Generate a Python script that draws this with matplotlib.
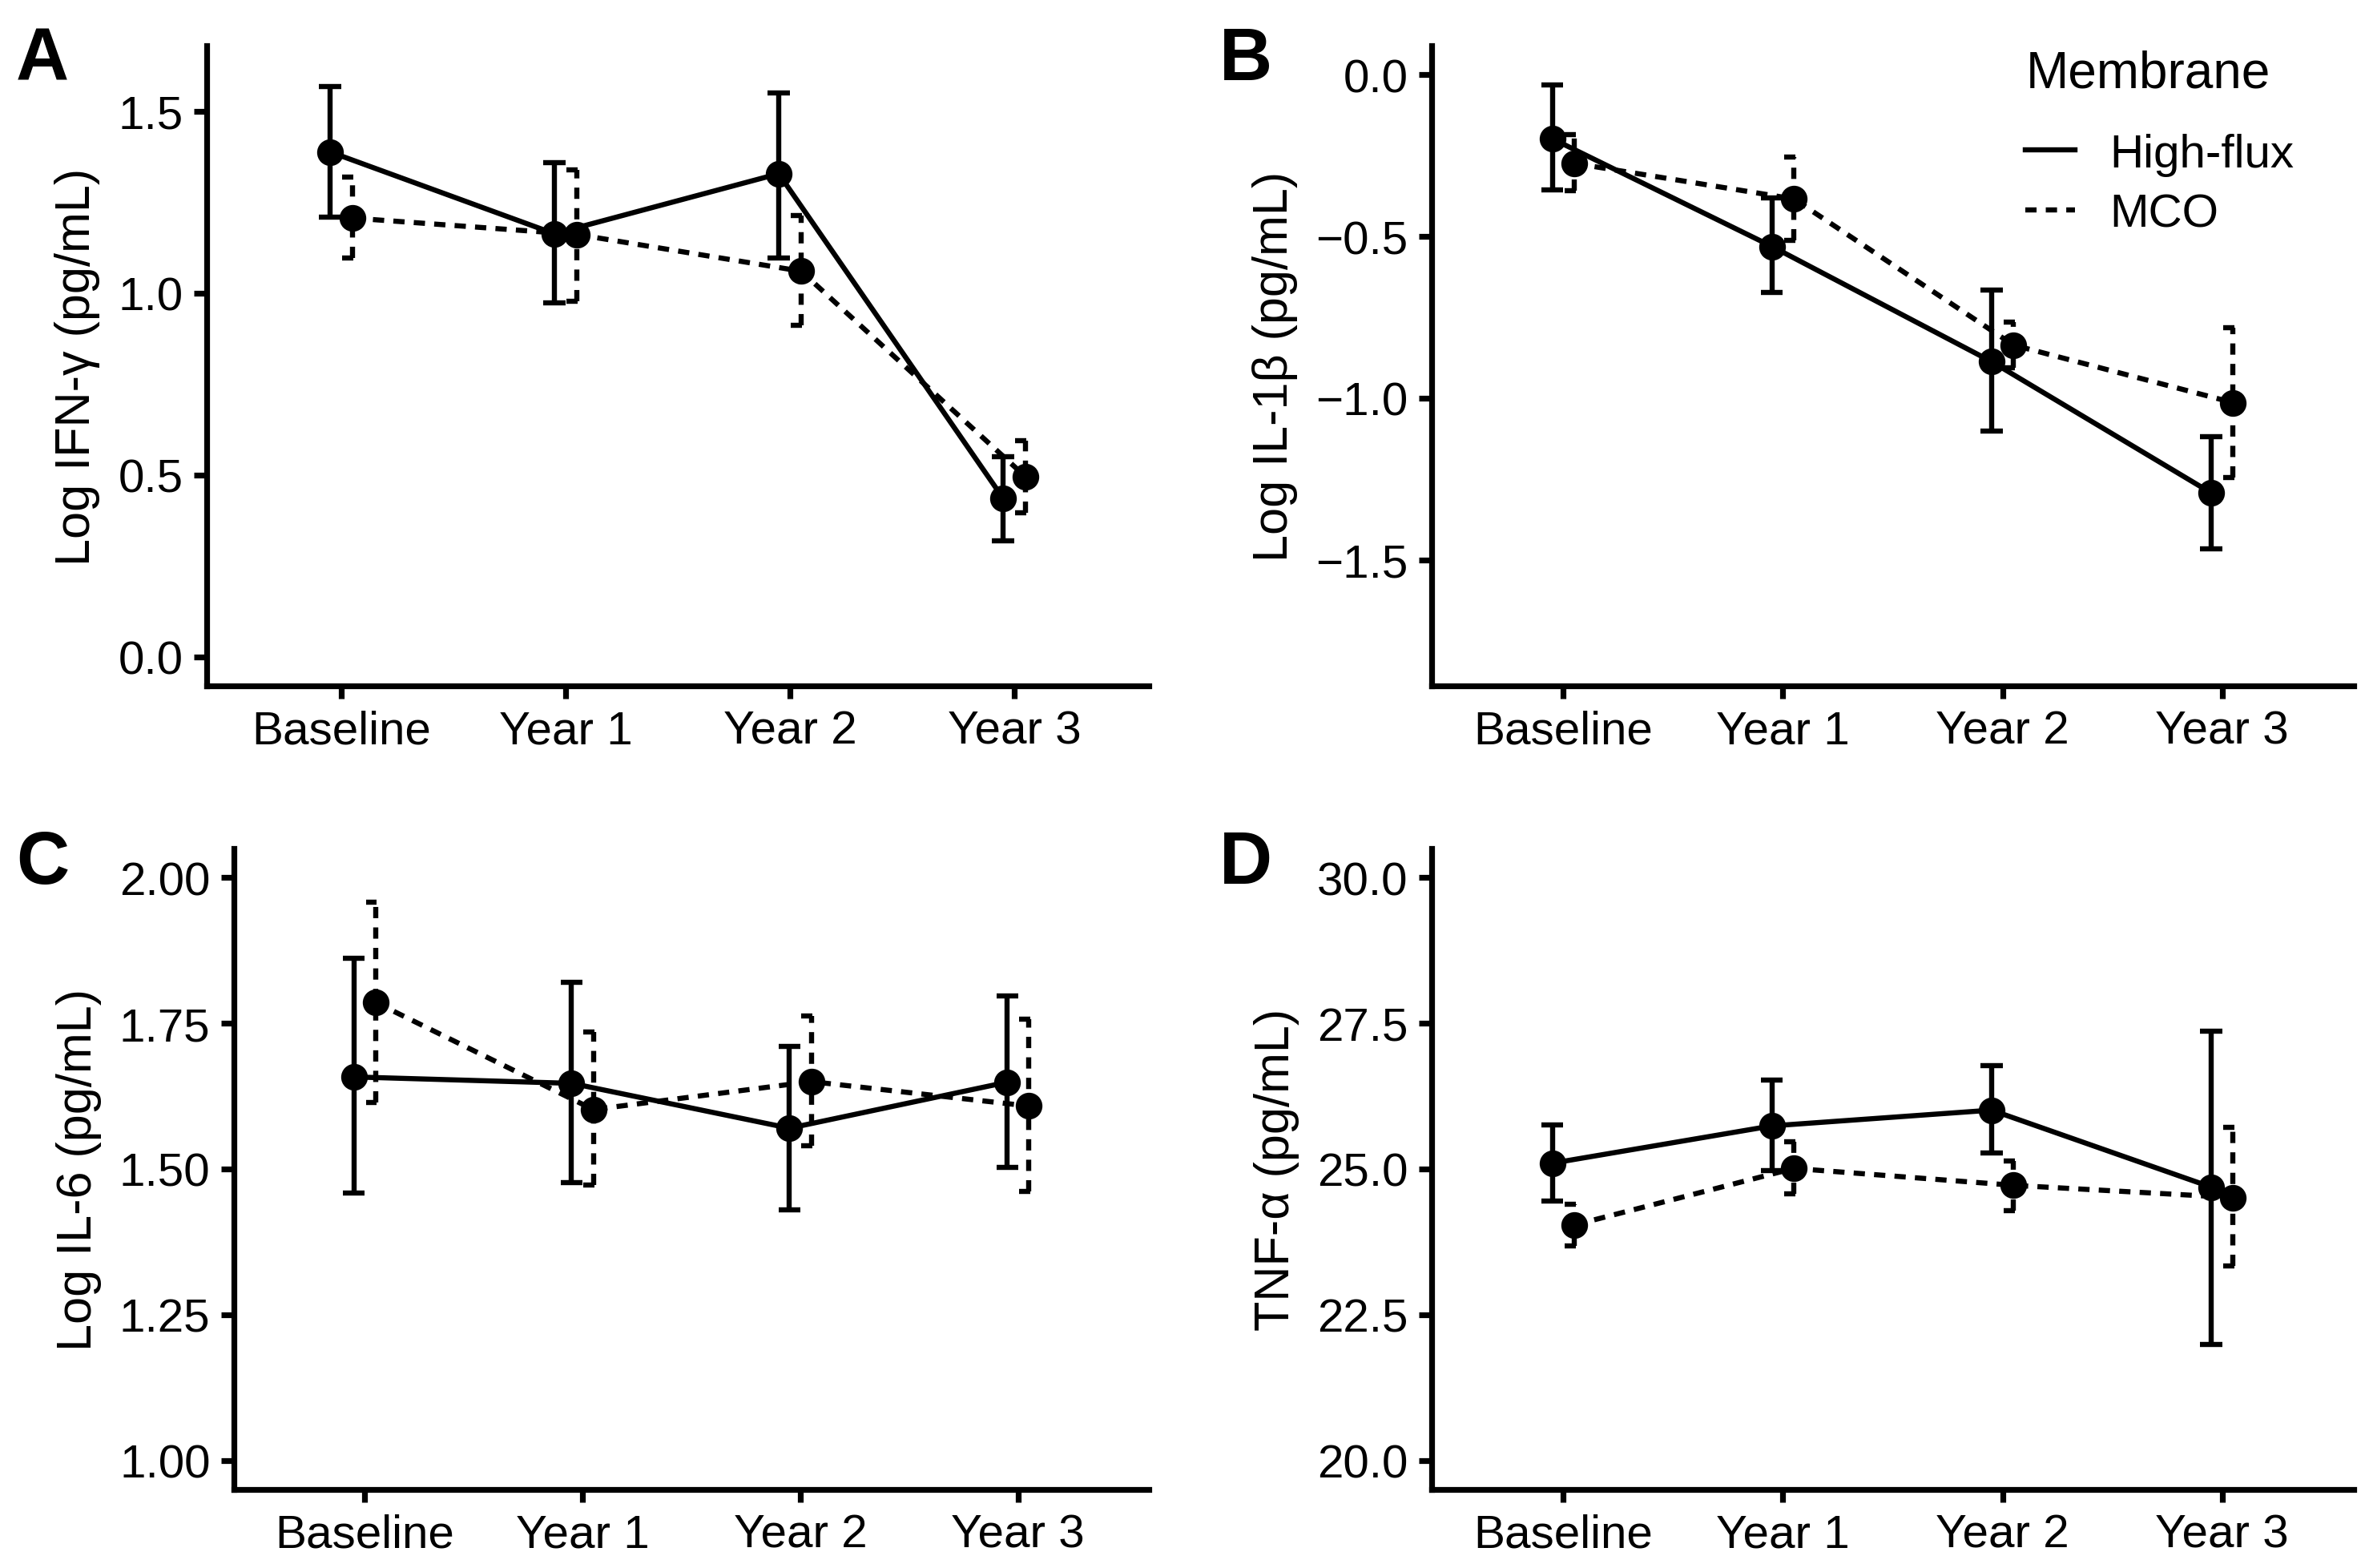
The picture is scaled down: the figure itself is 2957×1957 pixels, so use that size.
import matplotlib
matplotlib.use("Agg")
import matplotlib.pyplot as plt
from matplotlib.lines import Line2D
from matplotlib.ticker import FixedLocator, FuncFormatter
import numpy as np

plt.rcParams['font.family'] = ['Liberation Sans', 'DejaVu Sans']

# ---- data ----
timepoints = ["Baseline", "Year 1", "Year 2", "Year 3"]

# A: IFN-gamma
ifn_hf = [1.388, 1.163, 1.328, 0.436]
ifn_hf_lo = [1.208, 0.974, 1.097, 0.319]
ifn_hf_hi = [1.567, 1.358, 1.551, 0.550]
ifn_mco = [1.206, 1.161, 1.060, 0.495]
ifn_mco_lo = [1.096, 0.978, 0.911, 0.396]
ifn_mco_hi = [1.318, 1.339, 1.214, 0.594]

# B: IL-1beta
il1b_hf = [-0.198, -0.531, -0.887, -1.293]
il1b_hf_lo = [-0.356, -0.673, -1.102, -1.467]
il1b_hf_hi = [-0.031, -0.381, -0.666, -1.119]
il1b_mco = [-0.274, -0.384, -0.836, -1.014]
il1b_mco_lo = [-0.358, -0.511, -0.906, -1.246]
il1b_mco_hi = [-0.186, -0.255, -0.766, -0.782]

# C: IL-6
il6_hf = [1.658, 1.647, 1.570, 1.649]
il6_hf_lo = [1.459, 1.476, 1.430, 1.503]
il6_hf_hi = [1.861, 1.821, 1.711, 1.797]
il6_mco = [1.786, 1.602, 1.650, 1.608]
il6_mco_lo = [1.614, 1.473, 1.540, 1.462]
il6_mco_hi = [1.958, 1.735, 1.762, 1.757]

# D: TNF-alpha
tnf_hf = [25.10, 25.74, 26.01, 24.69]
tnf_hf_lo = [24.45, 24.97, 25.27, 21.99]
tnf_hf_hi = [25.76, 26.53, 26.77, 27.37]
tnf_mco = [24.04, 25.01, 24.72, 24.51]
tnf_mco_lo = [23.68, 24.57, 24.28, 23.33]
tnf_mco_hi = [24.40, 25.47, 25.14, 25.71]

W, H = 2957, 1958
DPI = 200
fig = plt.figure(figsize=(W / DPI, H / DPI), dpi=DPI)

LW = 2.3
DASH = (0, (2.2, 1.8))
AX_LW = 2.6
TICK_FS = 21
LABEL_FS = 22


def px_axes(left, top, right, bottom):
    return fig.add_axes([left / W, 1 - bottom / H, (right - left) / W, (bottom - top) / H])


def panel(ax, hf, hf_lo, hf_hi, mco, mco_lo, mco_hi, ylim, yticks, fmt, ylabel):
    x = np.arange(len(timepoints))
    xh = x - 0.05
    xm = x + 0.05
    # high-flux
    ax.plot(xh, hf, color='black', lw=LW, ls='-', zorder=3)
    ax.vlines(xh, hf_lo, hf_hi, color='black', lw=LW, zorder=3)
    ax.hlines(hf_lo, xh - 0.05, xh + 0.05, color='black', lw=LW, zorder=3)
    ax.hlines(hf_hi, xh - 0.05, xh + 0.05, color='black', lw=LW, zorder=3)
    ax.plot(xh, hf, 'o', color='black', ms=11, zorder=4)
    # MCO
    ax.plot(xm, mco, color='black', lw=LW, ls=DASH, zorder=3)
    ax.vlines(xm, mco_lo, mco_hi, color='black', lw=LW, linestyles=[DASH], zorder=3)
    ax.hlines(mco_lo, xm - 0.045, xm + 0.005, color='black', lw=LW, zorder=3)
    ax.hlines(mco_hi, xm - 0.045, xm + 0.005, color='black', lw=LW, zorder=3)
    ax.plot(xm, mco, 'o', color='black', ms=11, zorder=4)

    ax.set_xlim(-0.6, 3.6)
    ax.set_ylim(*ylim)
    ax.set_xticks(x)
    ax.set_xticklabels(timepoints)
    ax.yaxis.set_major_locator(FixedLocator(yticks))
    ax.yaxis.set_major_formatter(FuncFormatter(lambda v, p: (fmt % v).replace('-', '\u2212')))
    for s in ['top', 'right']:
        ax.spines[s].set_visible(False)
    for s in ['left', 'bottom']:
        ax.spines[s].set_linewidth(AX_LW)
    ax.tick_params(axis='both', length=5.6, width=AX_LW, labelsize=TICK_FS, pad=5)
    ax.set_ylabel(ylabel, fontsize=LABEL_FS, labelpad=8)


axA = px_axes(258, 58, 1434, 857)
panel(axA, ifn_hf, ifn_hf_lo, ifn_hf_hi, ifn_mco, ifn_mco_lo, ifn_mco_hi,
      (-0.08, 1.68), [0.0, 0.5, 1.0, 1.5], '%.1f', 'Log IFN-\u03b3 (pg/mL)')

axB = px_axes(1787, 58, 2938, 857)
panel(axB, il1b_hf, il1b_hf_lo, il1b_hf_hi, il1b_mco, il1b_mco_lo, il1b_mco_hi,
      (-1.89, 0.09), [-1.5, -1.0, -0.5, 0.0], '%.1f', 'Log IL-1\u03b2 (pg/mL)')

axC = px_axes(292, 1060, 1434, 1860)
panel(axC, il6_hf, il6_hf_lo, il6_hf_hi, il6_mco, il6_mco_lo, il6_mco_hi,
      (0.95, 2.05), [1.0, 1.25, 1.5, 1.75, 2.0], '%.2f', 'Log IL-6 (pg/mL)')

axD = px_axes(1787, 1060, 2938, 1860)
panel(axD, tnf_hf, tnf_hf_lo, tnf_hf_hi, tnf_mco, tnf_mco_lo, tnf_mco_hi,
      (19.5, 30.5), [20.0, 22.5, 25.0, 27.5, 30.0], '%.1f', 'TNF-\u03b1 (pg/mL)')

# panel tags
for tag, xp, yp in [('A', 20, 100), ('B', 1522, 100), ('C', 20, 1103), ('D', 1522, 1103)]:
    fig.text(xp / W, 1 - yp / H, tag, fontsize=33, fontweight='bold', va='baseline', ha='left')

# legend in panel B
handles = [Line2D([], [], color='black', lw=LW, ls='-'),
           Line2D([], [], color='black', lw=LW, ls=DASH)]
leg = axB.legend(handles, ['High-flux', 'MCO'], title='Membrane', loc='upper left',
                 bbox_to_anchor=(2505 / W, 1 - 39 / H), bbox_transform=fig.transFigure,
                 frameon=False, fontsize=TICK_FS, title_fontsize=LABEL_FS + 1,
                 handlelength=1.05, handletextpad=0.75, labelspacing=0.35, borderaxespad=0)
leg._legend_box.align = 'left'
leg._legend_box.sep = 16

fig.savefig('out.png', dpi=DPI)
